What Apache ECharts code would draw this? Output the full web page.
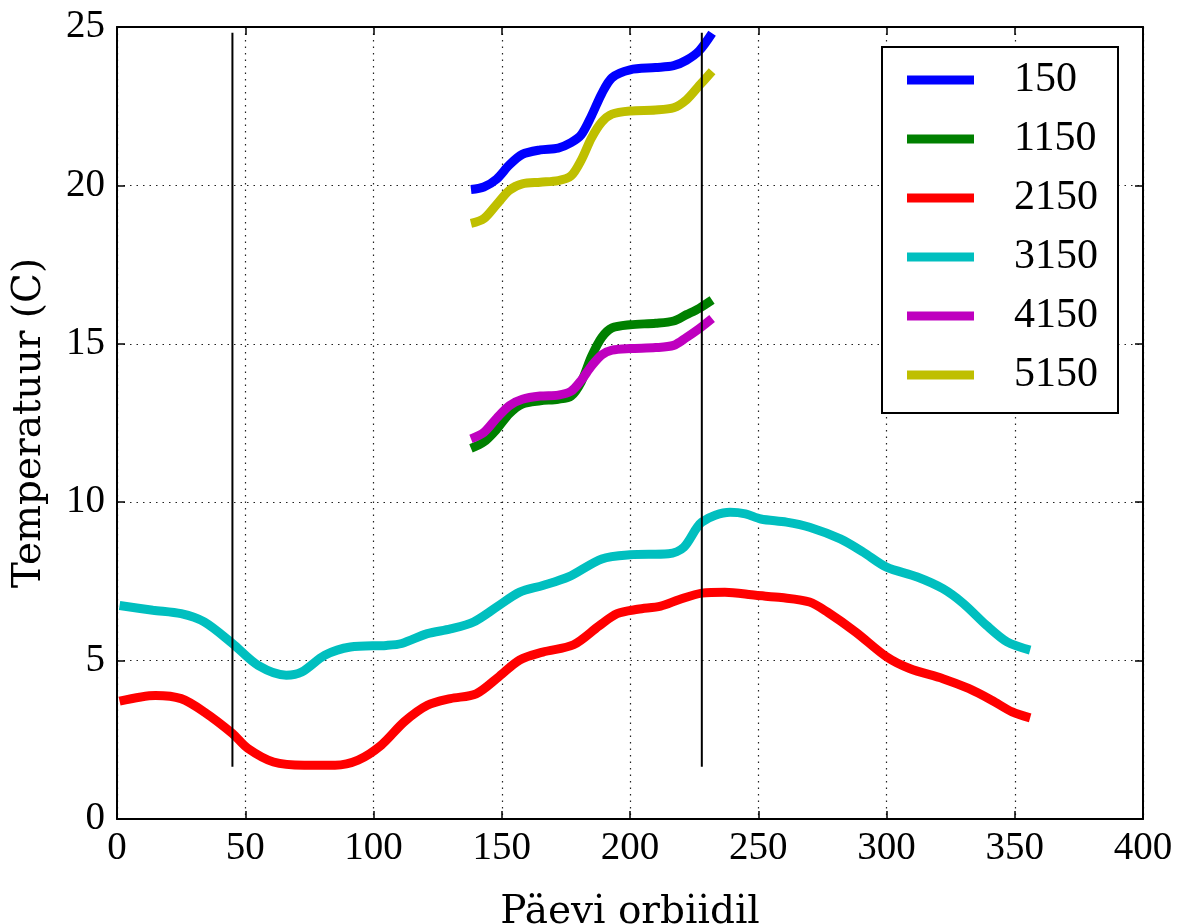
<!DOCTYPE html>
<html><head><meta charset="utf-8">
<script src="https://cdn.jsdelivr.net/npm/echarts@6/dist/echarts.min.js"></script>
<style>html,body{margin:0;padding:0;background:#fff}#c{width:1181px;height:924px}</style>
</head><body><div id="c"></div><script>
// ---- data ----
const seriesNames = ['150', '1150', '2150', '3150', '4150', '5150'];
const seriesColors = ['#0000ff', '#008000', '#ff0000', '#00bfbf', '#bf00bf', '#bfbf00'];

const shortDays = [138, 143, 148, 153, 158, 165, 172, 177, 181, 185, 189, 193, 200, 210, 217, 222, 227, 232];
const temp150  = [19.87, 19.95, 20.2, 20.65, 20.98, 21.12, 21.18, 21.35, 21.6, 22.2, 22.9, 23.4, 23.65, 23.72, 23.78, 23.95, 24.25, 24.8];
const temp1150 = [11.7, 11.9, 12.3, 12.8, 13.1, 13.2, 13.25, 13.35, 13.8, 14.6, 15.2, 15.5, 15.6, 15.65, 15.72, 15.92, 16.12, 16.38];
const temp4150 = [12.0, 12.2, 12.65, 13.05, 13.25, 13.35, 13.38, 13.5, 13.85, 14.3, 14.65, 14.8, 14.85, 14.88, 14.95, 15.2, 15.48, 15.8];
const temp5150 = [18.8, 18.95, 19.4, 19.85, 20.05, 20.1, 20.15, 20.3, 20.8, 21.5, 22.0, 22.25, 22.35, 22.38, 22.45, 22.7, 23.15, 23.6];

const redDays  = [1, 15, 25, 34, 45, 51, 61, 73, 85, 94, 103, 112, 121, 130, 140, 149, 157, 166, 178, 188, 195, 203, 212, 219, 228, 237, 249, 259, 270, 277, 288, 300, 309, 322, 332, 341, 349, 356];
const temp2150 = [3.72, 3.9, 3.8, 3.38, 2.7, 2.23, 1.8, 1.7, 1.7, 1.86, 2.33, 3.07, 3.59, 3.8, 3.95, 4.5, 5.02, 5.27, 5.5, 6.1, 6.48, 6.62, 6.72, 6.92, 7.13, 7.16, 7.06, 6.99, 6.85, 6.53, 5.9, 5.12, 4.75, 4.43, 4.12, 3.75, 3.38, 3.19];

const cyanDays = [1, 14, 25, 34, 45, 55, 66, 72, 81, 91, 105, 111, 121, 130, 139, 148, 157, 166, 176, 189, 200, 215, 221, 228, 239, 245, 251, 261, 270, 282, 291, 300, 312, 322, 330, 339, 347, 356];
const temp3150 = [6.74, 6.59, 6.48, 6.22, 5.54, 4.85, 4.54, 4.64, 5.17, 5.43, 5.48, 5.54, 5.85, 6.0, 6.22, 6.69, 7.16, 7.37, 7.64, 8.21, 8.34, 8.37, 8.58, 9.37, 9.68, 9.63, 9.47, 9.37, 9.21, 8.84, 8.42, 7.95, 7.64, 7.27, 6.8, 6.11, 5.59, 5.33];

const markerDays = [45, 228];
const markerRange = [1.65, 24.82];

const xTicks = [0, 50, 100, 150, 200, 250, 300, 350, 400];
const yTicks = [0, 5, 10, 15, 20, 25];

// ---- build ----
const pair = (xs, ys) => xs.map((x, i) => [x, ys[i]]);
const seriesData = [
  pair(shortDays, temp150),
  pair(shortDays, temp1150),
  pair(redDays, temp2150),
  pair(cyanDays, temp3150),
  pair(shortDays, temp4150),
  pair(shortDays, temp5150)
];

const tickFont = 'Liberation Serif';
const nameFont = 'DejaVu Serif';

const series = seriesNames.map((n, i) => ({
  name: n, type: 'line', data: seriesData[i], smooth: 0.3,
  showSymbol: false, symbol: 'none', color: seriesColors[i],
  lineStyle: { width: 9, color: seriesColors[i], cap: 'butt' },
  z: 3 + i, animation: false
}));
markerDays.forEach(d => series.push({
  type: 'line', data: markerRange.map(y => [d, y]), symbol: 'none', showSymbol: false,
  lineStyle: { width: 2, color: '#000' }, z: 20, animation: false, silent: true
}));

const grid = { left: 117, right: 38, top: 27, bottom: 105, containLabel: false, outerBoundsMode: 'none' };
const dotted = { show: true, lineStyle: { color: '#222', type: [1.5, 5], width: 1.2 } };

const option = {
  animation: false,
  backgroundColor: '#fff',
  grid,
  legend: {
    data: seriesNames, orient: 'vertical', left: 882, top: 47,
    icon: 'rect', itemWidth: 67, itemHeight: 9, itemGap: 15,
    padding: [11, 20, 16, 25],
    borderColor: '#000', borderWidth: 2, backgroundColor: '#fff',
    textStyle: { fontFamily: tickFont, fontSize: 42, color: '#000', lineHeight: 44, padding: [0, 0, 0, 35] },
    z: 30
  },
  xAxis: [{
    type: 'value', min: 0, max: 400, interval: 50,
    name: 'Päevi orbiidil', nameLocation: 'middle', nameGap: 74,
    nameTextStyle: { fontFamily: nameFont, fontSize: 39, color: '#000' },
    axisLine: { show: true, onZero: false, lineStyle: { color: '#000', width: 2 } },
    axisTick: { show: true, inside: true, length: 8, lineStyle: { color: '#000', width: 1.5 } },
    axisLabel: { fontFamily: tickFont, fontSize: 39, color: '#000', margin: 10,
      formatter: v => xTicks.includes(v) ? String(v) : '' },
    splitLine: dotted
  }, {
    type: 'value', min: 0, max: 400, interval: 50, position: 'top',
    axisLine: { show: true, onZero: false, lineStyle: { color: '#000', width: 2 } },
    axisTick: { show: true, inside: true, length: 8, lineStyle: { color: '#000', width: 1.5 } },
    axisLabel: { show: false }, splitLine: { show: false }
  }],
  yAxis: [{
    type: 'value', min: 0, max: 25, interval: 5,
    name: 'Temperatuur (C)', nameLocation: 'middle', nameGap: 68, nameRotate: 90,
    nameTextStyle: { fontFamily: nameFont, fontSize: 39, color: '#000' },
    axisLine: { show: true, onZero: false, lineStyle: { color: '#000', width: 2 } },
    axisTick: { show: true, inside: true, length: 8, lineStyle: { color: '#000', width: 1.5 } },
    axisLabel: { fontFamily: tickFont, fontSize: 39, color: '#000', margin: 12,
      formatter: v => yTicks.includes(v) ? String(v) : '' },
    splitLine: dotted
  }, {
    type: 'value', min: 0, max: 25, interval: 5, position: 'right',
    axisLine: { show: true, onZero: false, lineStyle: { color: '#000', width: 2 } },
    axisTick: { show: true, inside: true, length: 8, lineStyle: { color: '#000', width: 1.5 } },
    axisLabel: { show: false }, splitLine: { show: false }
  }],
  series
};
const chart = echarts.init(document.getElementById('c'), null, { renderer: 'canvas' });
chart.setOption(option);
</script></body></html>
